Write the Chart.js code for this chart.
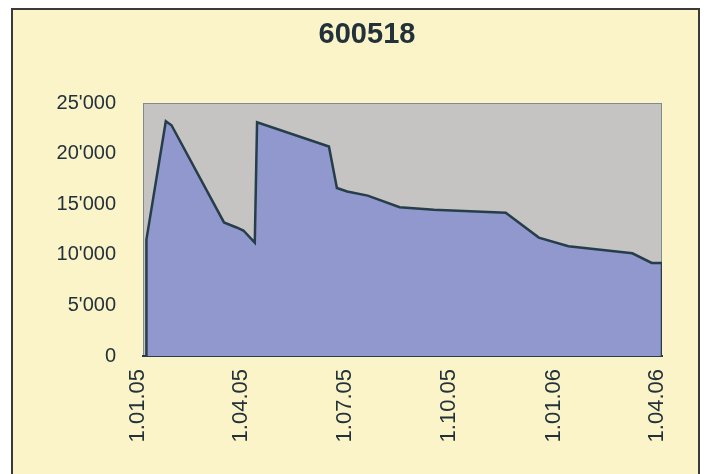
<!DOCTYPE html>
<html>
<head>
<meta charset="utf-8">
<script src="https://cdn.jsdelivr.net/npm/chart.js@4/dist/chart.umd.min.js"></script>
<style>
  html,body{margin:0;padding:0;background:#fff;}
  #wrap{width:706px;height:474px;}
</style>
</head>
<body>
<div id="wrap"><canvas id="chart" width="706" height="474"></canvas></div>
<script>
/* DATA */
const title = "600518";
const dates = [
  "2005-01-04","2005-01-04","2005-01-21","2005-01-26","2005-03-13","2005-03-24",
  "2005-03-30","2005-04-09","2005-04-11","2005-06-13","2005-06-20","2005-06-29",
  "2005-07-17","2005-08-14","2005-09-13","2005-11-15","2005-12-14","2006-01-09",
  "2006-03-06","2006-03-23","2006-04-01","2006-04-01"
];
const values = [
  0,11500,23200,22800,13200,12700,
  12400,11200,23100,20700,16600,16250,
  15850,14700,14450,14150,11700,10850,
  10150,9200,9200,0
];
const tickDates = ["2005-01-01","2005-04-01","2005-07-01","2005-10-01","2006-01-01","2006-04-01"];
const tickLabels = ["1.01.05","1.04.05","1.07.05","1.10.05","1.01.06","1.04.06"];
const yTicks = [0,5000,10000,15000,20000,25000];

/* helpers */
const origin = Date.UTC(2005,0,1);
const toDay = s => {
  const [y,m,d] = s.split("-").map(Number);
  return Math.round((Date.UTC(y,m-1,d)-origin)/86400000);
};
const fmt = v => String(v).replace(/\B(?=(\d{3})+(?!\d))/g,"'");
const tickDays = tickDates.map(toDay);
const points = dates.map((d,i)=>({x:toDay(d),y:values[i]}));

const FONT = "'Liberation Sans', Arial, sans-serif";
const INK = "#22313a";

/* BACKGROUND + PLOT AREA + TITLE */
const frame = {
  id:"frame",
  beforeDraw(chart){
    const {ctx,chartArea:a} = chart;
    ctx.save();
    ctx.fillStyle="#ffffff";
    ctx.fillRect(0,0,chart.width,chart.height);
    ctx.fillStyle="#faf4c8";
    ctx.fillRect(12,9,687,470);
    ctx.strokeStyle="#3a3a3a";
    ctx.lineWidth=2;
    ctx.beginPath();
    ctx.moveTo(12,476);ctx.lineTo(12,9);ctx.lineTo(699,9);ctx.lineTo(699,476);
    ctx.stroke();
    ctx.fillStyle="#c5c4c2";
    ctx.fillRect(a.left,a.top,a.right-a.left,a.bottom-a.top);
    ctx.strokeStyle="#7d8c92";
    ctx.lineWidth=1;
    ctx.strokeRect(a.left+0.5,a.top+0.5,a.right-a.left-1,a.bottom-a.top-1);
    ctx.restore();
  },
  afterDraw(chart){
    const ctx = chart.ctx;
    ctx.save();
    ctx.fillStyle=INK;
    ctx.font="bold 29px "+FONT;
    ctx.textAlign="center";
    ctx.textBaseline="middle";
    ctx.fillText(title,367,35);
    ctx.restore();
  }
};

/* CHART */
new Chart(document.getElementById("chart"),{
  type:"line",
  data:{
    datasets:[{
      data:points,
      borderColor:"#263d4a",
      borderWidth:2.5,
      backgroundColor:"#9098ce",
      fill:"origin",
      pointRadius:0,
      tension:0
    }]
  },
  options:{
    responsive:false,
    animation:false,
    layout:{padding:{left:0,right:44,top:103,bottom:0}},
    plugins:{
      legend:{display:false},
      tooltip:{enabled:false},
      title:{display:false}
    },
    scales:{
      x:{
        type:"linear",
        min:0,
        max:tickDays[tickDays.length-1],
        afterBuildTicks:s=>{s.ticks=tickDays.map(v=>({value:v}));},
        afterFit:s=>{s.height=118;},
        grid:{display:false,drawTicks:false},
        border:{display:true,color:"#263d4a",width:2},
        ticks:{
          autoSkip:false,
          minRotation:90,
          maxRotation:90,
          padding:13,
          labelOffset:-5,
          color:INK,
          font:{family:FONT,size:22},
          callback:v=>tickLabels[tickDays.indexOf(v)]
        }
      },
      y:{
        min:0,
        max:25000,
        afterBuildTicks:s=>{s.ticks=yTicks.map(v=>({value:v}));},
        afterFit:s=>{s.width=143;},
        grid:{display:false,drawTicks:false},
        border:{display:false},
        ticks:{
          padding:27,
          color:INK,
          font:{family:FONT,size:20},
          callback:v=>fmt(v)
        }
      }
    }
  },
  plugins:[frame]
});
</script>
</body>
</html>
